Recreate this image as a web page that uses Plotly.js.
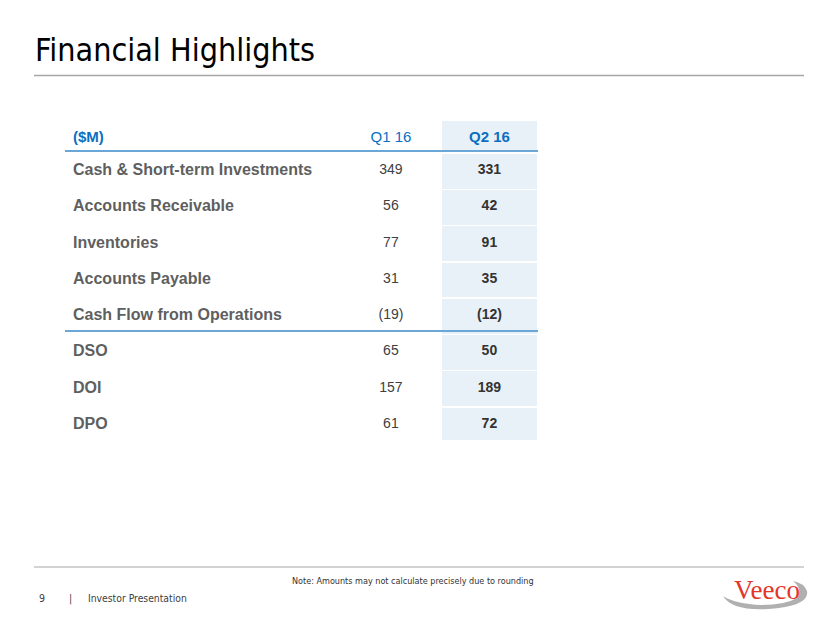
<!DOCTYPE html>
<html>
<head>
<meta charset="utf-8">
<script src="https://cdn.plot.ly/plotly-3.0.1.min.js"></script>
<style>
html,body{margin:0;padding:0;background:#fff;}
#chart{width:830px;height:623px;}
</style>
</head>
<body>
<div id="chart"></div>
<script>
// ---- data ----
const headerLabels = ["($M)", "Q1 16", "Q2 16"];
const rowLabels = ["Cash & Short-term Investments", "Accounts Receivable", "Inventories",
  "Accounts Payable", "Cash Flow from Operations", "DSO", "DOI", "DPO"];
const q1Values = [349, 56, 77, 31, -19, 65, 157, 61];
const q2Values = [331, 42, 91, 35, -12, 50, 189, 72];

function fmt(v) { return v < 0 ? "(" + Math.abs(v) + ")" : String(v); }

const W = 830, H = 623;
const px = x => x / W;
const py = y => 1 - y / H;

const shade = "#e9f1f8";
const blue = "#0a6fc2";
const lineBlue = "#6aa6d6";

const trace = {
  type: "table",
  domain: { x: [px(65), px(538)], y: [py(441), py(120)] },
  columnwidth: [276, 100, 97],
  header: {
    values: [["<b>" + headerLabels[0] + "</b>"], ["<span>" + headerLabels[1] + "</span>"], ["<b>" + headerLabels[2] + "</b>"]],
    align: ["left", "center", "center"],
    height: 31,
    fill: { color: ["rgba(0,0,0,0)", "rgba(0,0,0,0)", shade] },
    line: { color: "white", width: 1.5 },
    font: { family: "Liberation Sans, Arial, sans-serif", size: 15, color: blue }
  },
  cells: {
    values: [
      rowLabels.map(s => "<b>" + s + "</b>"),
      q1Values.map(v => "<span>" + fmt(v) + "</span>"),
      q2Values.map(v => "<b>" + fmt(v) + "</b>")
    ],
    align: ["left", "center", "center"],
    height: 36.25,
    fill: { color: ["rgba(0,0,0,0)", "rgba(0,0,0,0)", shade] },
    line: { color: "white", width: 1.5 },
    font: { family: "Liberation Sans, Arial, sans-serif", size: [16, 14, 14], color: ["#5f5f5f", "#404040", "#333333"] }
  }
};

const P = (x, y) => px(x) + " " + py(y);
const shapes = [
  { type: "line", xref: "paper", yref: "paper", x0: px(34), x1: px(804), y0: py(75.5), y1: py(75.5), line: { color: "#a6a6a6", width: 1.5 } },
  { type: "line", xref: "paper", yref: "paper", x0: px(65), x1: px(538), y0: py(151), y1: py(151), line: { color: lineBlue, width: 2 } },
  { type: "line", xref: "paper", yref: "paper", x0: px(65), x1: px(538), y0: py(331), y1: py(331), line: { color: lineBlue, width: 2 } },
  { type: "line", xref: "paper", yref: "paper", x0: px(34), x1: px(804), y0: py(567), y1: py(567), line: { color: "#a6a6a6", width: 1 } },
  // logo swoosh
  { type: "path", xref: "paper", yref: "paper",
    path: "M " + P(723, 596) + " Q " + P(732, 611) + " " + P(768, 609) +
          " Q " + P(810, 606) + " " + P(807, 591) +
          " Q " + P(804, 583) + " " + P(793, 581) +
          " Q " + P(803, 589) + " " + P(797, 598) +
          " Q " + P(785, 605) + " " + P(762, 605) +
          " Q " + P(735, 604) + " " + P(723, 596) + " Z",
    fillcolor: "#b0b0b0", line: { width: 0 } }
];

const narrow = "Liberation Sans Narrow, Arial Narrow, DejaVu Sans Condensed, sans-serif";
const annotations = [
  { text: "Financial Highlights", xref: "paper", yref: "paper", x: px(33), y: py(50), xanchor: "left", yanchor: "middle",
    showarrow: false, font: { family: narrow, size: 32, color: "#000000" } },
  { text: "Note: Amounts may not calculate precisely due to rounding", xref: "paper", yref: "paper", x: px(413), y: py(581),
    xanchor: "center", yanchor: "middle", showarrow: false, font: { family: narrow, size: 9, color: "#333333" } },
  { text: "9", xref: "paper", yref: "paper", x: px(42), y: py(598), xanchor: "center", yanchor: "middle",
    showarrow: false, font: { family: narrow, size: 10.5, color: "#404040" } },
  { text: "|", xref: "paper", yref: "paper", x: px(70), y: py(598), xanchor: "center", yanchor: "middle",
    showarrow: false, font: { family: narrow, size: 10.5, color: "#404040" } },
  { text: "Investor Presentation", xref: "paper", yref: "paper", x: px(86), y: py(598), xanchor: "left", yanchor: "middle",
    showarrow: false, font: { family: narrow, size: 10.3, color: "#404040" } },
  { text: "Veeco", xref: "paper", yref: "paper", x: px(767), y: py(590), xanchor: "center", yanchor: "middle",
    showarrow: false, font: { family: "Liberation Serif, Times New Roman, serif", size: 27, color: "#e2352b" } }
];

const layout = {
  width: W, height: H,
  margin: { l: 0, r: 0, t: 0, b: 0 },
  paper_bgcolor: "#ffffff",
  plot_bgcolor: "#ffffff",
  showlegend: false,
  shapes: shapes,
  annotations: annotations
};

Plotly.newPlot("chart", [trace], layout, { displayModeBar: false, staticPlot: true });
</script>
</body>
</html>
